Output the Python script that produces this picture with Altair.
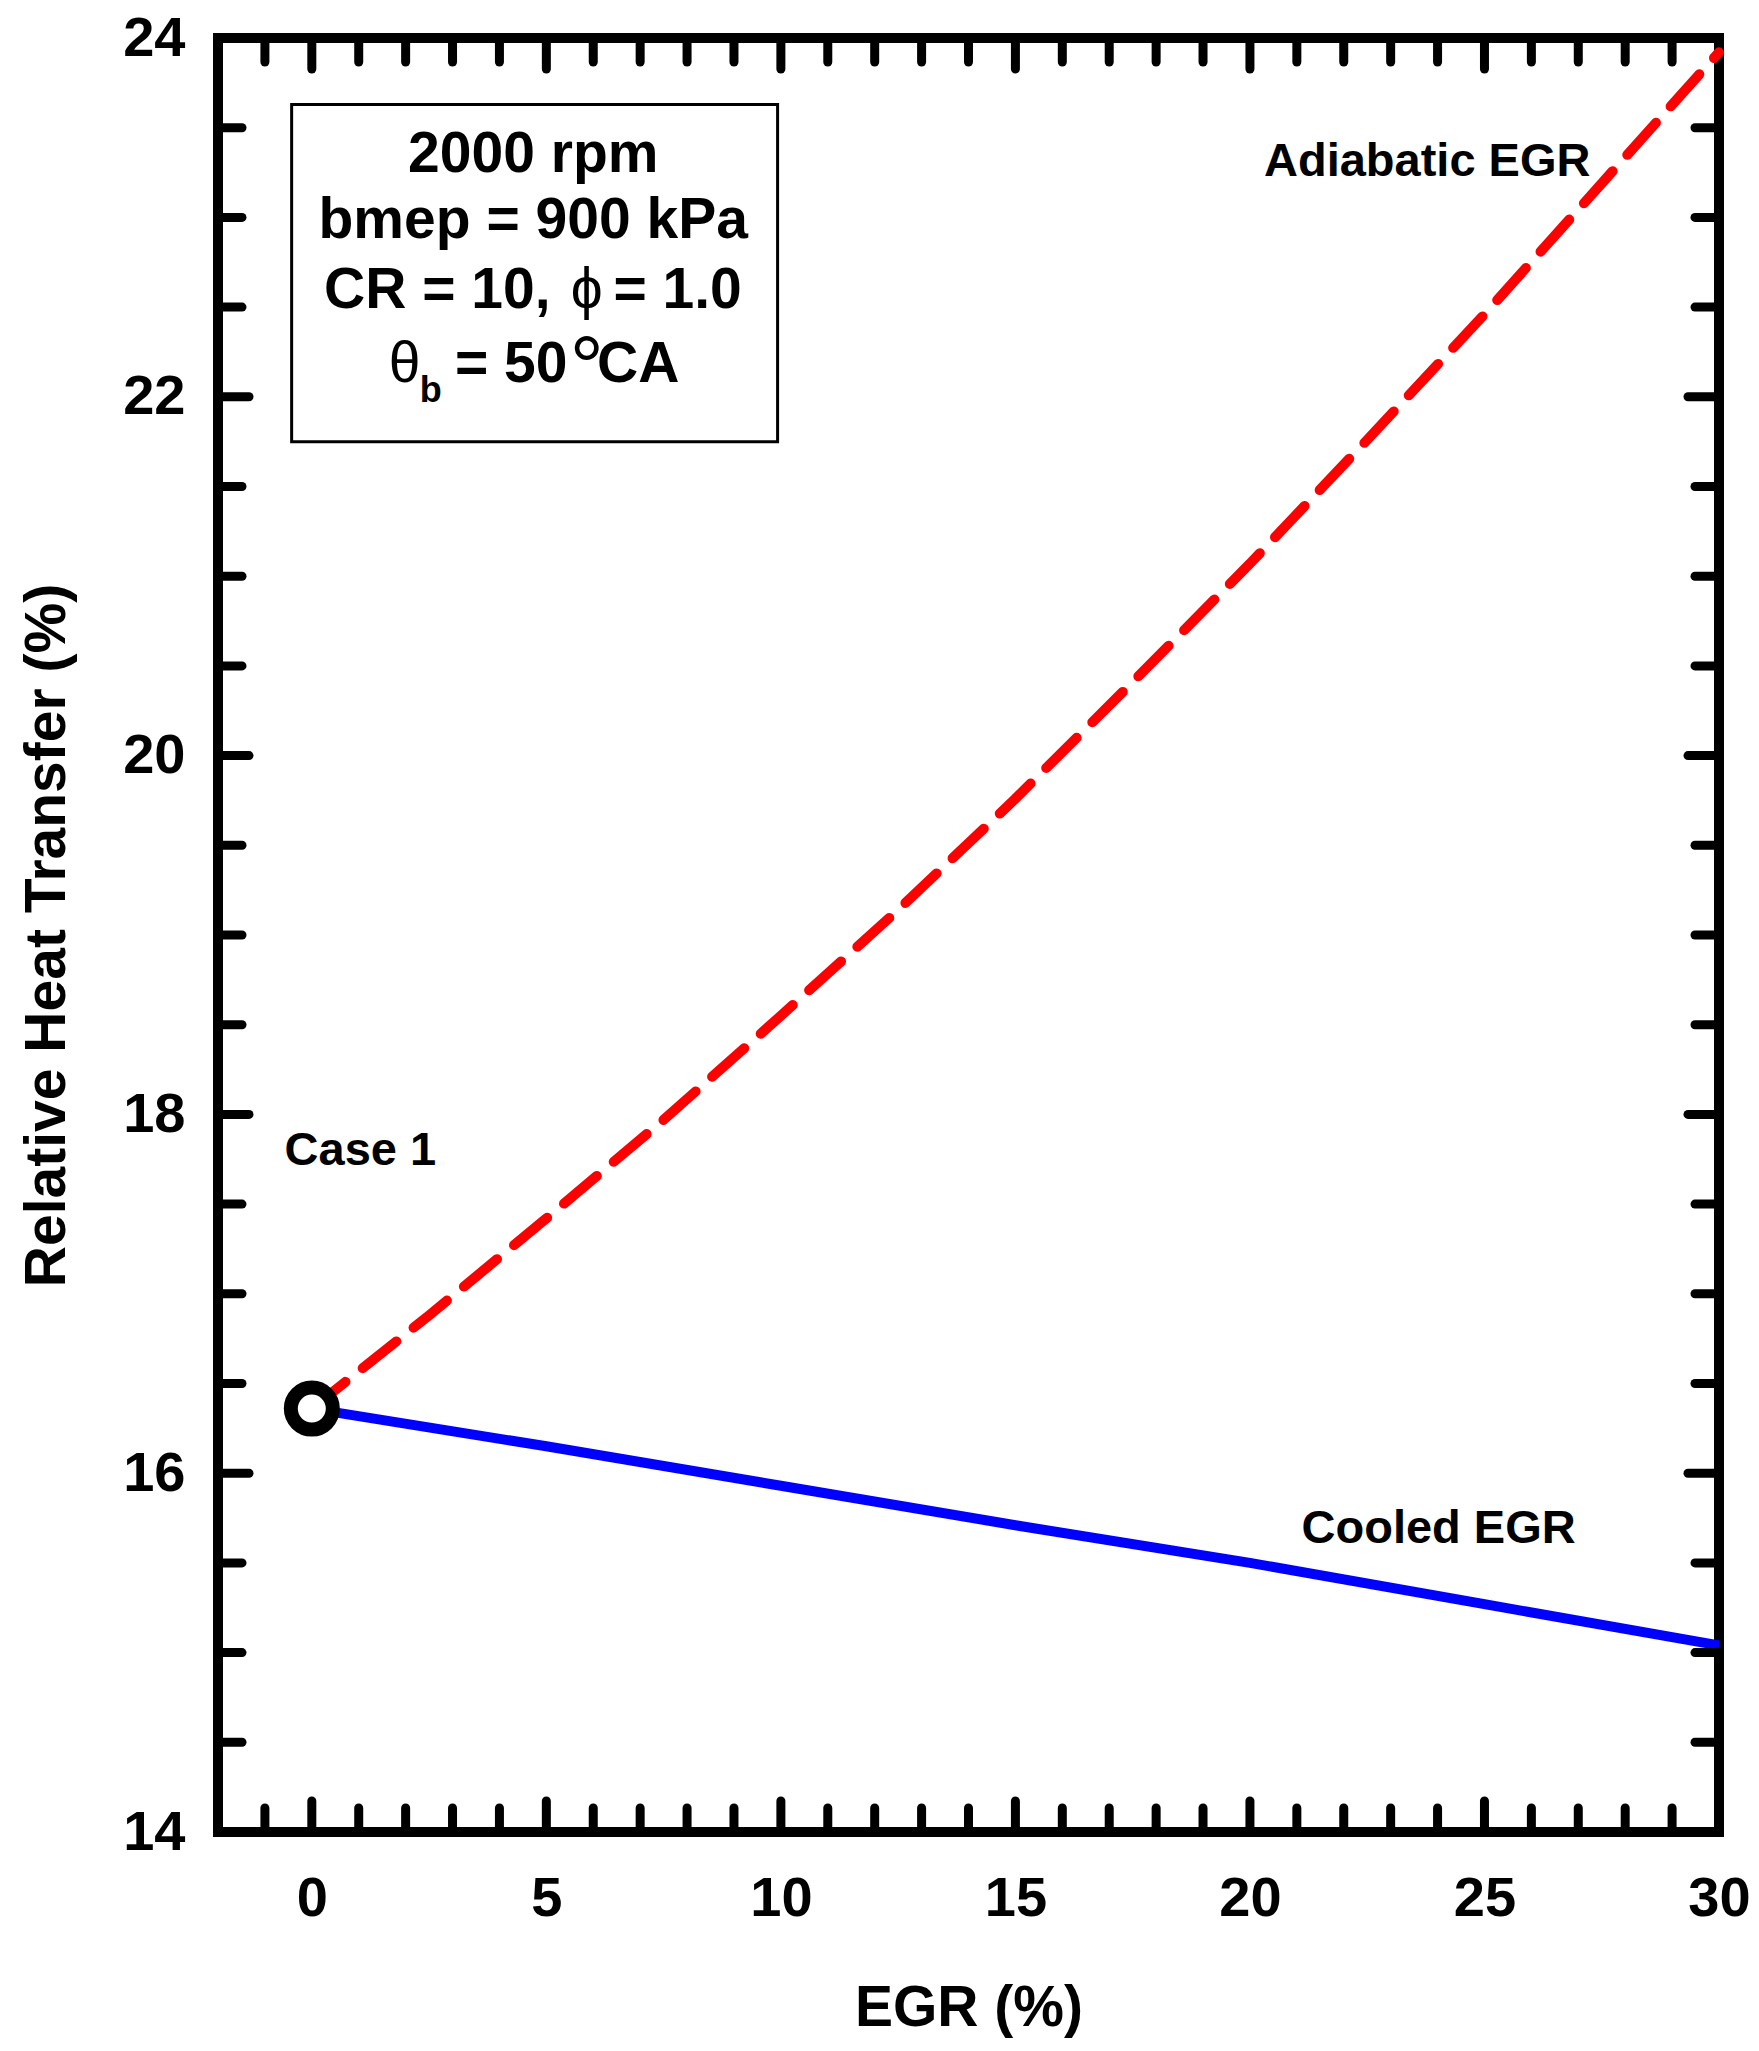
import altair as alt
import pandas as pd

# ---- data ----
egr_adiabatic = [0, 2.5, 5, 7.5, 10, 12.5, 15, 17.5, 20, 22.5, 25, 27.5, 30]
rht_adiabatic = [16.36, 16.88, 17.42, 17.97, 18.55, 19.14, 19.76, 20.41, 21.07, 21.76, 22.46, 23.19, 23.92]

egr_cooled = [0, 5, 10, 15, 20, 25, 30]
rht_cooled = [16.36, 16.15, 15.93, 15.71, 15.50, 15.27, 15.04]

case_egr = [0]
case_rht = [16.36]

x_label_values = [0, 5, 10, 15, 20, 25, 30]
y_label_values = [14, 16, 18, 20, 22, 24]
x_major_ticks = [0, 5, 10, 15, 20, 25]
x_minor_ticks = [v for v in range(-1, 30) if v % 5 != 0]
y_major_ticks = [16, 18, 20, 22]
y_minor_ticks = [14.5, 15, 15.5, 16.5, 17, 17.5, 18.5, 19, 19.5, 20.5, 21, 21.5, 22.5, 23, 23.5]

W, H = 1501, 1794
FONT = "Liberation Sans, Arial, DejaVu Sans"

xs = alt.Scale(domain=[-2, 30], nice=False, zero=False)
ys = alt.Scale(domain=[14, 24], nice=False, zero=False)

x_axis = alt.Axis(values=x_label_values, title="EGR (%)", ticks=False, domain=False, grid=False,
                  labelPadding=83, labelBaseline="alphabetic", labelFlush=False,
                  labelFontSize=56, labelFontWeight="bold", labelFont=FONT, labelColor="black",
                  titleFontSize=57, titleFontWeight="bold", titleFont=FONT, titleColor="black",
                  titleY=193, titleBaseline="alphabetic")
y_axis = alt.Axis(values=y_label_values, title="Relative Heat Transfer (%)", ticks=False, domain=False,
                  grid=False, labelPadding=33, labelFlush=False,
                  labelFontSize=56, labelFontWeight="bold", labelFont=FONT, labelColor="black",
                  titleFontSize=57, titleFontWeight="bold", titleFont=FONT, titleColor="black",
                  titleX=-154, titleY=H / 2, titleAngle=-90, titleBaseline="alphabetic", titleAlign="center")


def X(f):
    return alt.X(f"{f}:Q", scale=xs, axis=x_axis)


def Y(f):
    return alt.Y(f"{f}:Q", scale=ys, axis=y_axis)


adiabatic = pd.DataFrame({"x": egr_adiabatic, "y": rht_adiabatic})
cooled = pd.DataFrame({"x": egr_cooled, "y": rht_cooled})
case = pd.DataFrame({"x": case_egr, "y": case_rht})

red = alt.Chart(adiabatic).mark_line(color="#FF0000", strokeWidth=10, strokeDash=[43, 22],
                                     strokeCap="round").encode(x=X("x"), y=Y("y"))
blue = alt.Chart(cooled).mark_line(color="#0000FF", strokeWidth=10).encode(x=X("x"), y=Y("y"))
pt = alt.Chart(case).mark_point(shape="circle", size=1764, fill="white", stroke="black",
                                strokeWidth=14, opacity=1, fillOpacity=1).encode(x=X("x"), y=Y("y"))


def ticks(vals, side, length):
    df = pd.DataFrame({"v": vals})
    m = alt.Chart(df).mark_rule(color="black", strokeWidth=9, strokeCap="round")
    if side == "left":
        return m.encode(y=Y("v"), x=alt.value(0), x2=alt.value(length))
    if side == "right":
        return m.encode(y=Y("v"), x=alt.value(W), x2=alt.value(W - length))
    if side == "top":
        return m.encode(x=X("v"), y=alt.value(0), y2=alt.value(length))
    return m.encode(x=X("v"), y=alt.value(H), y2=alt.value(H - length))


tick_layers = []
for side in ["left", "right"]:
    tick_layers.append(ticks(y_minor_ticks, side, 24))
    tick_layers.append(ticks(y_major_ticks, side, 31))
for side in ["top", "bottom"]:
    tick_layers.append(ticks(x_minor_ticks, side, 24))
    tick_layers.append(ticks(x_major_ticks, side, 31))

box = alt.Chart(pd.DataFrame({"x": [-0.43], "x2": [9.93], "y": [23.63], "y2": [21.75]})).mark_rect(
    fill="white", stroke="black", strokeWidth=3).encode(x=X("x"), x2="x2:Q", y=Y("y"), y2="y2:Q")

annot = pd.DataFrame({
    "t": ["Adiabatic EGR", "Cooled EGR", "Case 1"],
    "x": [20.3, 21.1, -0.58],
    "y": [23.23, 15.61, 17.72],
})
annot_l = alt.Chart(annot).mark_text(font=FONT, fontSize=47, fontWeight="bold", align="left",
                                     baseline="alphabetic", color="black").encode(x=X("x"), y=Y("y"), text="t:N")

box_c = pd.DataFrame({"t": ["2000 rpm", "bmep = 900 kPa"], "x": [4.72, 4.72], "y": [23.253, 22.885]})
box_c_l = alt.Chart(box_c).mark_text(font=FONT, fontSize=57, fontWeight="bold", align="center",
                                     baseline="alphabetic", color="black").encode(x=X("x"), y=Y("y"), text="t:N")

box_b = pd.DataFrame({"t": ["CR = 10,", "= 1.0", "= 50", "CA"], "x": [0.26, 6.43, 3.05, 6.08],
                      "y": [22.495, 22.495, 22.083, 22.083]})
box_b_l = alt.Chart(box_b).mark_text(font=FONT, fontSize=57, fontWeight="bold", align="left",
                                     baseline="alphabetic", color="black").encode(x=X("x"), y=Y("y"), text="t:N")

greek = pd.DataFrame({"t": ["ϕ", "θ"], "x": [5.52, 1.64], "y": [22.495, 22.083]})
greek_l = alt.Chart(greek).mark_text(font=FONT, fontSize=57, fontWeight="normal", align="left",
                                     baseline="alphabetic", color="black").encode(x=X("x"), y=Y("y"), text="t:N")

deg = pd.DataFrame({"t": ["°"], "x": [5.50], "y": [22.004]})
deg_l = alt.Chart(deg).mark_text(font=FONT, fontSize=85, fontWeight="normal", align="left",
                                 baseline="alphabetic", color="black").encode(x=X("x"), y=Y("y"), text="t:N")

sub = pd.DataFrame({"t": ["b"], "x": [2.30], "y": [21.971]})
sub_l = alt.Chart(sub).mark_text(font=FONT, fontSize=36, fontWeight="bold", align="left",
                                 baseline="alphabetic", color="black").encode(x=X("x"), y=Y("y"), text="t:N")

chart = alt.layer(
    box, red, blue, pt, *tick_layers, annot_l, box_c_l, box_b_l, greek_l, deg_l, sub_l
).properties(
    width=W, height=H,
    autosize=alt.AutoSizeParams(type="none"),
    padding={"left": 210, "top": 30, "right": 32, "bottom": 211},
    background="white",
).configure_view(stroke="black", strokeWidth=10)

chart.save("out.html", embed_options={"renderer": "svg", "actions": False})
